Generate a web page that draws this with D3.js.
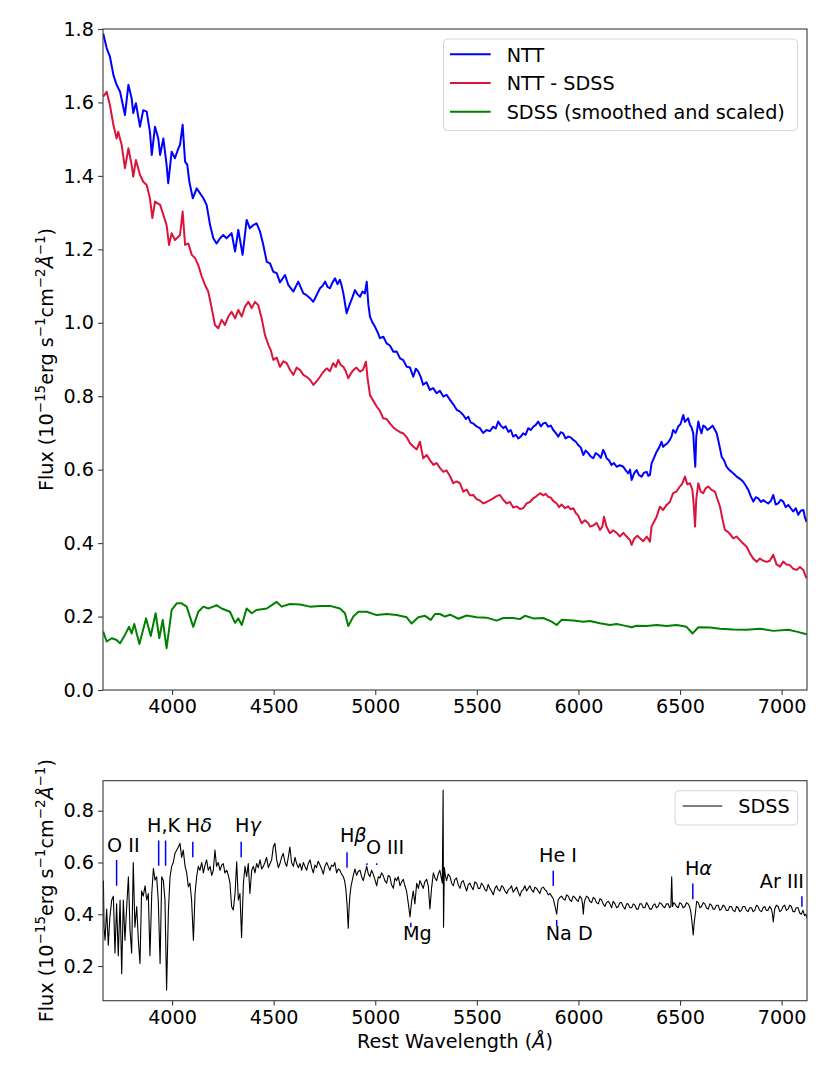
<!DOCTYPE html>
<html><head><meta charset="utf-8">
<script src="https://cdn.jsdelivr.net/npm/d3@7"></script>
<style>
body{margin:0;background:#fff}
text{font-family:"DejaVu Sans",sans-serif;fill:#000}
</style>
</head><body>
<svg id="c" width="830" height="1080"></svg>
<script>
// ---------------- DATA ----------------
const xTicks = [4000,4500,5000,5500,6000,6500,7000];
const topYTicks = [0.0,0.2,0.4,0.6,0.8,1.0,1.2,1.4,1.6,1.8];
const botYTicks = [0.2,0.4,0.6,0.8];
const seriesNames = ["NTT","NTT - SDSS","SDSS (smoothed and scaled)"];
const bottomName = "SDSS";

// NTT spectrum [wavelength, flux]
const ntt = [[3661,1.788],[3678,1.748],[3694,1.725],[3711,1.675],[3727,1.648],[3744,1.629],[3768,1.566],[3785,1.648],[3801,1.611],[3809,1.571],[3822,1.598],[3842,1.534],[3858,1.579],[3875,1.575],[3891,1.520],[3900,1.457],[3916,1.534],[3932,1.502],[3941,1.457],[3957,1.502],[3973,1.430],[3981,1.380],[3998,1.466],[4014,1.448],[4031,1.475],[4039,1.484],[4052,1.539],[4064,1.439],[4075,1.430],[4085,1.384],[4102,1.339],[4121,1.366],[4137,1.353],[4154,1.339],[4170,1.321],[4187,1.266],[4203,1.230],[4219,1.216],[4236,1.230],[4252,1.239],[4268,1.230],[4293,1.244],[4310,1.194],[4326,1.253],[4347,1.185],[4367,1.280],[4383,1.257],[4400,1.266],[4416,1.271],[4433,1.248],[4449,1.212],[4466,1.166],[4482,1.162],[4498,1.139],[4515,1.135],[4531,1.110],[4556,1.130],[4572,1.103],[4597,1.085],[4621,1.112],[4646,1.080],[4662,1.075],[4679,1.067],[4695,1.057],[4711,1.075],[4728,1.094],[4740,1.100],[4753,1.112],[4765,1.098],[4777,1.094],[4790,1.110],[4802,1.121],[4814,1.105],[4826,1.117],[4835,1.100],[4843,1.080],[4859,1.026],[4876,1.053],[4888,1.070],[4900,1.089],[4912,1.078],[4925,1.071],[4937,1.085],[4949,1.080],[4958,1.112],[4966,1.050],[4974,1.017],[4987,1.000],[4999,0.989],[5011,0.975],[5023,0.958],[5040,0.962],[5056,0.944],[5072,0.938],[5089,0.921],[5105,0.922],[5122,0.903],[5138,0.898],[5155,0.880],[5171,0.878],[5187,0.853],[5200,0.875],[5212,0.867],[5224,0.852],[5236,0.831],[5252,0.838],[5269,0.817],[5285,0.822],[5302,0.808],[5318,0.815],[5335,0.799],[5351,0.804],[5368,0.790],[5384,0.778],[5401,0.763],[5417,0.758],[5433,0.749],[5446,0.738],[5458,0.744],[5470,0.728],[5482,0.726],[5498,0.718],[5515,0.713],[5531,0.700],[5548,0.708],[5564,0.705],[5581,0.717],[5593,0.712],[5605,0.731],[5618,0.720],[5630,0.713],[5642,0.718],[5655,0.703],[5667,0.708],[5679,0.690],[5692,0.695],[5704,0.685],[5716,0.690],[5728,0.699],[5740,0.695],[5753,0.713],[5765,0.708],[5778,0.717],[5790,0.722],[5802,0.731],[5815,0.718],[5827,0.726],[5839,0.728],[5851,0.717],[5864,0.720],[5876,0.708],[5888,0.700],[5901,0.690],[5913,0.702],[5925,0.699],[5937,0.685],[5950,0.690],[5962,0.688],[5975,0.681],[5987,0.676],[5999,0.667],[6012,0.660],[6024,0.640],[6036,0.652],[6048,0.645],[6060,0.636],[6073,0.631],[6085,0.645],[6098,0.640],[6110,0.632],[6122,0.654],[6130,0.645],[6139,0.631],[6151,0.625],[6163,0.613],[6175,0.618],[6188,0.608],[6204,0.612],[6221,0.608],[6233,0.598],[6245,0.590],[6254,0.600],[6262,0.572],[6274,0.590],[6286,0.599],[6298,0.585],[6311,0.581],[6323,0.592],[6336,0.594],[6344,0.583],[6352,0.586],[6360,0.617],[6372,0.632],[6385,0.649],[6397,0.660],[6409,0.676],[6417,0.662],[6426,0.667],[6438,0.672],[6450,0.681],[6458,0.690],[6466,0.708],[6478,0.700],[6491,0.717],[6503,0.725],[6516,0.749],[6524,0.730],[6532,0.735],[6540,0.740],[6549,0.722],[6557,0.715],[6565,0.699],[6570,0.650],[6575,0.608],[6580,0.690],[6590,0.731],[6598,0.712],[6606,0.699],[6614,0.720],[6623,0.717],[6635,0.708],[6647,0.713],[6660,0.720],[6672,0.708],[6680,0.700],[6688,0.681],[6696,0.660],[6705,0.635],[6717,0.625],[6729,0.608],[6741,0.600],[6754,0.594],[6766,0.588],[6779,0.581],[6795,0.575],[6811,0.567],[6824,0.556],[6836,0.545],[6848,0.528],[6861,0.513],[6873,0.525],[6885,0.522],[6898,0.512],[6910,0.517],[6922,0.512],[6934,0.508],[6947,0.515],[6959,0.531],[6971,0.505],[6983,0.508],[6996,0.518],[7008,0.513],[7020,0.498],[7033,0.504],[7045,0.495],[7057,0.486],[7070,0.495],[7082,0.477],[7094,0.488],[7107,0.490],[7115,0.470],[7123,0.458]];

// NTT - SDSS [wavelength, flux]
const nttMinusSdss = [[3661,1.616],[3678,1.629],[3694,1.593],[3711,1.539],[3727,1.502],[3735,1.520],[3752,1.484],[3768,1.421],[3785,1.475],[3801,1.430],[3809,1.398],[3822,1.443],[3842,1.403],[3858,1.384],[3875,1.375],[3891,1.339],[3903,1.285],[3916,1.330],[3941,1.321],[3957,1.294],[3973,1.266],[3985,1.212],[3998,1.244],[4014,1.225],[4039,1.239],[4052,1.303],[4064,1.212],[4080,1.216],[4097,1.185],[4113,1.176],[4129,1.157],[4146,1.126],[4162,1.103],[4178,1.085],[4195,1.040],[4211,0.994],[4227,0.985],[4244,1.008],[4260,0.994],[4277,1.017],[4293,1.030],[4310,1.012],[4326,1.035],[4343,1.017],[4359,1.044],[4375,1.057],[4392,1.040],[4408,1.057],[4424,1.048],[4441,1.012],[4457,0.967],[4474,0.940],[4486,0.925],[4498,0.899],[4515,0.905],[4531,0.880],[4548,0.895],[4564,0.890],[4580,0.872],[4597,0.858],[4613,0.878],[4630,0.871],[4646,0.858],[4662,0.853],[4679,0.845],[4695,0.831],[4711,0.840],[4728,0.853],[4744,0.866],[4761,0.876],[4777,0.868],[4793,0.890],[4806,0.880],[4818,0.899],[4830,0.885],[4843,0.880],[4855,0.868],[4867,0.849],[4880,0.862],[4892,0.871],[4908,0.878],[4925,0.867],[4940,0.872],[4954,0.894],[4962,0.850],[4974,0.803],[4990,0.788],[5007,0.772],[5023,0.760],[5039,0.740],[5056,0.738],[5072,0.726],[5089,0.715],[5105,0.708],[5122,0.702],[5138,0.699],[5155,0.688],[5171,0.672],[5187,0.663],[5204,0.655],[5220,0.676],[5236,0.631],[5253,0.640],[5269,0.626],[5286,0.613],[5302,0.618],[5318,0.605],[5335,0.594],[5351,0.598],[5368,0.582],[5384,0.563],[5400,0.568],[5417,0.563],[5433,0.540],[5450,0.546],[5466,0.530],[5482,0.531],[5499,0.520],[5515,0.516],[5532,0.508],[5548,0.512],[5565,0.517],[5581,0.522],[5597,0.528],[5614,0.531],[5630,0.518],[5647,0.508],[5663,0.512],[5679,0.497],[5696,0.500],[5712,0.493],[5728,0.495],[5745,0.508],[5761,0.512],[5778,0.522],[5794,0.528],[5811,0.536],[5827,0.530],[5839,0.534],[5851,0.526],[5864,0.524],[5876,0.515],[5893,0.508],[5905,0.498],[5917,0.505],[5934,0.495],[5950,0.500],[5962,0.492],[5975,0.495],[5987,0.482],[5999,0.475],[6016,0.454],[6032,0.462],[6048,0.455],[6057,0.445],[6073,0.448],[6090,0.455],[6106,0.436],[6118,0.445],[6126,0.472],[6138,0.445],[6155,0.427],[6171,0.435],[6188,0.428],[6204,0.418],[6221,0.428],[6237,0.418],[6254,0.408],[6262,0.395],[6274,0.412],[6290,0.420],[6303,0.413],[6319,0.405],[6336,0.418],[6352,0.404],[6360,0.445],[6372,0.458],[6385,0.472],[6401,0.499],[6417,0.490],[6434,0.504],[6450,0.512],[6466,0.536],[6482,0.540],[6499,0.554],[6511,0.562],[6524,0.581],[6536,0.560],[6549,0.563],[6561,0.545],[6568,0.500],[6574,0.445],[6580,0.520],[6590,0.563],[6602,0.540],[6614,0.536],[6627,0.550],[6639,0.554],[6655,0.545],[6672,0.540],[6684,0.520],[6697,0.499],[6709,0.465],[6721,0.436],[6737,0.430],[6750,0.422],[6762,0.413],[6778,0.418],[6795,0.408],[6811,0.399],[6828,0.390],[6844,0.372],[6860,0.358],[6877,0.349],[6893,0.358],[6910,0.352],[6926,0.349],[6942,0.352],[6959,0.368],[6975,0.342],[6992,0.336],[7008,0.350],[7024,0.342],[7041,0.340],[7057,0.330],[7074,0.327],[7090,0.335],[7107,0.327],[7115,0.315],[7123,0.304]];

// SDSS smoothed and scaled [wavelength, flux]
const sdssSmooth = [[3661,0.159],[3678,0.132],[3703,0.141],[3727,0.136],[3744,0.127],[3768,0.150],[3788,0.172],[3801,0.154],[3814,0.180],[3839,0.125],[3872,0.195],[3895,0.147],[3919,0.209],[3937,0.141],[3954,0.191],[3973,0.114],[3998,0.218],[4023,0.236],[4047,0.236],[4072,0.227],[4104,0.172],[4129,0.213],[4154,0.227],[4178,0.222],[4203,0.227],[4219,0.231],[4244,0.222],[4285,0.213],[4310,0.183],[4326,0.195],[4343,0.177],[4367,0.222],[4392,0.209],[4416,0.218],[4466,0.222],[4515,0.240],[4539,0.227],[4580,0.234],[4630,0.233],[4679,0.227],[4728,0.229],[4777,0.229],[4826,0.222],[4851,0.209],[4867,0.174],[4892,0.200],[4917,0.213],[4958,0.213],[5007,0.204],[5056,0.207],[5105,0.204],[5155,0.198],[5179,0.181],[5212,0.198],[5245,0.202],[5273,0.191],[5294,0.207],[5318,0.207],[5343,0.200],[5368,0.205],[5409,0.194],[5450,0.203],[5499,0.198],[5548,0.197],[5597,0.189],[5630,0.196],[5679,0.196],[5712,0.193],[5737,0.202],[5778,0.195],[5827,0.196],[5868,0.186],[5893,0.177],[5917,0.191],[5975,0.189],[6024,0.186],[6057,0.188],[6106,0.182],[6155,0.177],[6188,0.180],[6221,0.176],[6262,0.171],[6286,0.175],[6336,0.174],[6385,0.177],[6434,0.174],[6483,0.177],[6532,0.172],[6562,0.154],[6590,0.171],[6647,0.170],[6697,0.167],[6762,0.165],[6828,0.164],[6893,0.167],[6959,0.161],[7033,0.164],[7074,0.159],[7123,0.152]];

// SDSS spectrum [wavelength, flux]
const sdss = [[3662,0.53],[3665,0.35],[3670,0.30],[3678,0.42],[3686,0.28],[3694,0.39],[3703,0.455],[3711,0.47],[3719,0.25],[3727,0.44],[3735,0.24],[3744,0.455],[3752,0.17],[3760,0.455],[3768,0.30],[3776,0.42],[3785,0.545],[3793,0.34],[3801,0.25],[3809,0.60],[3817,0.35],[3826,0.43],[3834,0.30],[3842,0.21],[3850,0.49],[3858,0.47],[3867,0.51],[3875,0.455],[3883,0.48],[3891,0.24],[3900,0.48],[3908,0.577],[3916,0.532],[3924,0.545],[3932,0.455],[3941,0.21],[3949,0.545],[3957,0.53],[3965,0.455],[3973,0.107],[3982,0.416],[3990,0.545],[3998,0.585],[4006,0.60],[4014,0.635],[4023,0.648],[4031,0.66],[4039,0.674],[4047,0.62],[4055,0.648],[4064,0.585],[4072,0.56],[4080,0.506],[4088,0.52],[4096,0.455],[4105,0.30],[4113,0.48],[4121,0.545],[4129,0.585],[4137,0.57],[4146,0.60],[4154,0.56],[4162,0.59],[4170,0.61],[4178,0.57],[4187,0.585],[4195,0.55],[4203,0.57],[4211,0.648],[4219,0.585],[4227,0.60],[4236,0.57],[4244,0.59],[4252,0.596],[4260,0.56],[4269,0.57],[4277,0.55],[4285,0.52],[4293,0.43],[4301,0.416],[4310,0.48],[4318,0.603],[4326,0.455],[4334,0.48],[4342,0.31],[4351,0.52],[4359,0.585],[4367,0.545],[4375,0.596],[4383,0.48],[4392,0.57],[4400,0.585],[4408,0.56],[4416,0.596],[4424,0.58],[4433,0.61],[4441,0.575],[4449,0.585],[4457,0.60],[4465,0.62],[4474,0.58],[4482,0.596],[4490,0.61],[4498,0.66],[4506,0.674],[4515,0.61],[4523,0.58],[4531,0.596],[4539,0.62],[4547,0.635],[4556,0.60],[4564,0.585],[4572,0.62],[4580,0.66],[4588,0.60],[4597,0.585],[4605,0.62],[4613,0.596],[4621,0.58],[4630,0.596],[4638,0.57],[4646,0.60],[4654,0.585],[4662,0.57],[4670,0.595],[4679,0.61],[4687,0.58],[4695,0.56],[4703,0.59],[4711,0.58],[4719,0.605],[4728,0.59],[4736,0.575],[4744,0.555],[4752,0.585],[4761,0.60],[4769,0.585],[4777,0.57],[4785,0.59],[4793,0.585],[4801,0.60],[4810,0.56],[4818,0.575],[4826,0.57],[4834,0.555],[4843,0.545],[4849,0.53],[4855,0.50],[4861,0.44],[4867,0.346],[4871,0.42],[4875,0.47],[4880,0.505],[4884,0.52],[4892,0.55],[4900,0.575],[4908,0.55],[4916,0.565],[4925,0.57],[4933,0.545],[4941,0.53],[4950,0.56],[4958,0.585],[4966,0.555],[4974,0.545],[4982,0.57],[4990,0.555],[4998,0.535],[5007,0.51],[5015,0.545],[5023,0.54],[5031,0.56],[5039,0.55],[5047,0.53],[5056,0.52],[5064,0.55],[5072,0.545],[5080,0.515],[5089,0.50],[5097,0.54],[5105,0.53],[5113,0.545],[5122,0.51],[5130,0.525],[5138,0.535],[5146,0.51],[5154,0.49],[5163,0.44],[5171,0.39],[5179,0.45],[5187,0.49],[5195,0.44],[5204,0.52],[5212,0.50],[5220,0.53],[5228,0.515],[5236,0.50],[5244,0.525],[5253,0.535],[5261,0.51],[5269,0.42],[5277,0.50],[5286,0.56],[5294,0.54],[5302,0.53],[5310,0.555],[5318,0.57],[5324,0.545],[5330,0.52],[5334,0.88],[5336,0.35],[5340,0.58],[5345,0.55],[5351,0.53],[5359,0.555],[5368,0.545],[5376,0.52],[5384,0.51],[5392,0.535],[5400,0.54],[5408,0.515],[5417,0.50],[5425,0.525],[5433,0.53],[5441,0.51],[5450,0.49],[5458,0.515],[5466,0.52],[5474,0.505],[5482,0.495],[5490,0.525],[5499,0.52],[5507,0.50],[5515,0.50],[5523,0.52],[5532,0.51],[5540,0.495],[5548,0.49],[5556,0.515],[5564,0.50],[5572,0.49],[5581,0.475],[5589,0.50],[5597,0.51],[5605,0.495],[5614,0.49],[5622,0.51],[5630,0.505],[5638,0.49],[5647,0.48],[5655,0.495],[5663,0.50],[5671,0.51],[5679,0.485],[5687,0.495],[5696,0.505],[5704,0.485],[5712,0.47],[5720,0.49],[5728,0.495],[5736,0.51],[5745,0.49],[5753,0.50],[5761,0.51],[5769,0.495],[5778,0.485],[5786,0.505],[5794,0.50],[5802,0.49],[5810,0.48],[5818,0.50],[5827,0.505],[5835,0.495],[5843,0.49],[5851,0.475],[5860,0.48],[5868,0.47],[5876,0.46],[5885,0.43],[5893,0.40],[5900,0.455],[5908,0.465],[5917,0.47],[5925,0.46],[5934,0.455],[5942,0.475],[5950,0.47],[5958,0.455],[5966,0.45],[5974,0.47],[5983,0.465],[5991,0.455],[5999,0.45],[6007,0.47],[6016,0.46],[6020,0.44],[6024,0.40],[6028,0.44],[6032,0.455],[6040,0.47],[6048,0.465],[6056,0.45],[6065,0.445],[6073,0.465],[6081,0.46],[6089,0.445],[6098,0.44],[6106,0.46],[6114,0.455],[6122,0.44],[6130,0.43],[6138,0.445],[6147,0.45],[6155,0.44],[6163,0.425],[6171,0.45],[6180,0.44],[6188,0.425],[6196,0.43],[6204,0.445],[6212,0.445],[6220,0.43],[6229,0.42],[6237,0.44],[6245,0.44],[6253,0.425],[6262,0.425],[6270,0.44],[6278,0.435],[6286,0.42],[6294,0.42],[6302,0.44],[6311,0.44],[6319,0.425],[6327,0.425],[6335,0.445],[6343,0.435],[6351,0.42],[6360,0.42],[6368,0.435],[6376,0.44],[6384,0.425],[6392,0.43],[6400,0.445],[6409,0.44],[6417,0.43],[6425,0.425],[6433,0.44],[6442,0.44],[6449,0.425],[6455,0.43],[6459,0.545],[6463,0.43],[6469,0.445],[6475,0.44],[6483,0.43],[6491,0.425],[6499,0.445],[6507,0.44],[6515,0.425],[6524,0.43],[6532,0.445],[6540,0.44],[6547,0.43],[6553,0.41],[6559,0.37],[6565,0.32],[6570,0.37],[6575,0.40],[6582,0.45],[6590,0.445],[6598,0.425],[6606,0.43],[6614,0.445],[6622,0.44],[6630,0.425],[6639,0.42],[6647,0.44],[6655,0.435],[6663,0.42],[6671,0.42],[6679,0.435],[6688,0.435],[6696,0.415],[6704,0.42],[6712,0.435],[6720,0.43],[6728,0.415],[6737,0.415],[6745,0.43],[6753,0.43],[6761,0.415],[6770,0.41],[6778,0.43],[6786,0.425],[6794,0.41],[6802,0.415],[6810,0.43],[6819,0.43],[6827,0.415],[6835,0.41],[6843,0.425],[6852,0.425],[6860,0.41],[6868,0.415],[6876,0.435],[6884,0.43],[6892,0.415],[6901,0.41],[6909,0.425],[6917,0.43],[6925,0.415],[6933,0.415],[6941,0.43],[6950,0.42],[6955,0.40],[6959,0.37],[6963,0.40],[6966,0.42],[6974,0.435],[6983,0.43],[6991,0.41],[6999,0.415],[7007,0.43],[7015,0.435],[7023,0.415],[7032,0.42],[7040,0.435],[7048,0.43],[7056,0.41],[7064,0.41],[7072,0.425],[7081,0.425],[7089,0.405],[7097,0.40],[7105,0.415],[7113,0.395],[7119,0.40],[7125,0.385]];

// Line identifications: marker wavelength(s), marker flux range, label anchor (wavelength, flux)
const lineNames  = ["O II","H,K","H|δ","H|γ","H|β","O III","Mg","He I","Na D","H|α","Ar III"];
const lineWaves  = [[3727],[3934,3968],[4102],[4340],[4861],[4959,5007],[5175],[5876],[5893],[6563],[7100]];
const lineMarkLo = [0.51,0.587,0.62,0.62,0.58,0.590,0.350,0.509,0.355,0.458,0.429];
const lineMarkHi = [0.61,0.685,0.68,0.68,0.64,0.597,0.367,0.568,0.378,0.519,0.470];
const labelWave  = [3680,3877,4067,4310,4826,4954,5136,5806,5839,6524,6893];
const labelFlux  = [0.641,0.717,0.717,0.717,0.680,0.633,0.301,0.602,0.301,0.552,0.502];

// ---------------- DRAW ----------------
const FS = 19.2;
const svg = d3.select("#c");
const L = 103, R = 807;
const T1 = 29, B1 = 690;
const T2 = 780.7, B2 = 1000.7;
const axisCol = "#3a3a3a";

const x = d3.scaleLinear().domain([3660,7125]).range([L,R]);
const y1 = d3.scaleLinear().domain([0,1.8]).range([B1,T1]);
const y2 = d3.scaleLinear().domain([0.066,0.916]).range([B2,T2]);

const defs = svg.append("defs");
defs.append("clipPath").attr("id","clip1").append("rect").attr("x",L).attr("y",T1).attr("width",R-L).attr("height",B1-T1);
defs.append("clipPath").attr("id","clip2").append("rect").attr("x",L).attr("y",T2).attr("width",R-L).attr("height",B2-T2);

function styleAxis(g){
  g.select(".domain").remove();
  g.selectAll(".tick line").attr("stroke",axisCol).attr("stroke-width",1.1);
  g.selectAll(".tick text").attr("font-size",FS).attr("fill","#000").attr("font-family","DejaVu Sans");
}
function axes(y, yTicks, top, bottom){
  svg.append("g").attr("transform",`translate(0,${bottom})`)
    .call(d3.axisBottom(x).tickValues(xTicks).tickFormat(d3.format("d")).tickSize(4.9).tickPadding(4.8))
    .call(styleAxis);
  svg.append("g").attr("transform",`translate(${L},0)`)
    .call(d3.axisLeft(y).tickValues(yTicks).tickFormat(d3.format(".1f")).tickSize(4.9).tickPadding(4.2))
    .call(styleAxis);
  svg.append("rect").attr("x",L).attr("y",top).attr("width",R-L).attr("height",bottom-top)
    .attr("fill","none").attr("stroke",axisCol).attr("stroke-width",1.1);
}

function ylabel(cx, cy){
  const t = svg.append("text").attr("transform",`translate(${cx},${cy}) rotate(-90)`)
    .attr("text-anchor","middle").attr("font-size",FS);
  const parts = [["Flux (10",0],["\u221215",1],["erg s",0],["\u22121",1],["cm",0],["\u22122",1],["\u00C5",2],["\u22121",1],[")",0]];
  let prev = 0;
  parts.forEach(([s,sup])=>{
    const ts = t.append("tspan").text(s);
    if(sup===1){ ts.attr("font-size",FS*0.7); if(prev!==1) ts.attr("dy",-FS*0.42); }
    else { if(prev===1) ts.attr("dy",FS*0.42); if(sup===2) ts.attr("font-style","italic"); }
    prev = sup;
  });
}

const line = (yS) => d3.line().x(d=>x(d[0])).y(d=>yS(d[1]));

// ---- top panel ----
const g1 = svg.append("g").attr("clip-path","url(#clip1)");
const topSeries = [ntt, nttMinusSdss, sdssSmooth];
const topColors = ["#0000ff","#dc143c","#008000"];
topSeries.forEach((s,i)=>{
  g1.append("path").datum(s).attr("d",line(y1)).attr("fill","none")
    .attr("stroke",topColors[i]).attr("stroke-width",2).attr("stroke-linejoin","round");
});
axes(y1, topYTicks, T1, B1);
ylabel(53, (T1+B1)/2);

// legend top
const lg = svg.append("g");
lg.append("rect").attr("x",443.5).attr("y",39).attr("width",354).attr("height",91.5).attr("rx",4)
  .attr("fill","#fff").attr("fill-opacity",0.8).attr("stroke","#d6d6d6").attr("stroke-width",1);
seriesNames.forEach((n,i)=>{
  const yy = 54.3 + i*28.7;
  lg.append("line").attr("x1",450).attr("x2",490.7).attr("y1",yy).attr("y2",yy)
    .attr("stroke",topColors[i]).attr("stroke-width",2);
  lg.append("text").attr("x",506.7).attr("y",yy+7.3).attr("font-size",FS).text(n);
});

// ---- bottom panel ----
const g2 = svg.append("g").attr("clip-path","url(#clip2)");
lineNames.forEach((n,i)=>{
  lineWaves[i].forEach(w=>{
    g2.append("line").attr("x1",x(w)).attr("x2",x(w)).attr("y1",y2(lineMarkLo[i])).attr("y2",y2(lineMarkHi[i]))
      .attr("stroke","#0000ff").attr("stroke-width",1.5);
  });
});
g2.append("path").datum(sdss).attr("d",line(y2)).attr("fill","none")
  .attr("stroke","#000").attr("stroke-width",1.1).attr("stroke-linejoin","round");

lineNames.forEach((n,i)=>{
  const t = svg.append("text").attr("x",x(labelWave[i])).attr("y",y2(labelFlux[i])).attr("font-size",FS);
  const p = n.split("|");
  t.append("tspan").text(p[0]);
  if(p[1]) t.append("tspan").attr("font-style","italic").text(p[1]);
});

axes(y2, botYTicks, T2, B2);
ylabel(53, (T2+B2)/2);
svg.append("text").attr("x",(L+R)/2).attr("y",1048).attr("text-anchor","middle").attr("font-size",FS)
  .call(t=>{ t.append("tspan").text("Rest Wavelength ("); t.append("tspan").attr("font-style","italic").text("\u00C5"); t.append("tspan").text(")"); });

// legend bottom
const lb = svg.append("g");
lb.append("rect").attr("x",675).attr("y",790.7).attr("width",122.7).attr("height",34.3).attr("rx",4)
  .attr("fill","#fff").attr("fill-opacity",0.8).attr("stroke","#d6d6d6").attr("stroke-width",1);
lb.append("line").attr("x1",682.7).attr("x2",722.3).attr("y1",806).attr("y2",806).attr("stroke","#000").attr("stroke-width",1.1);
lb.append("text").attr("x",738.3).attr("y",813.3).attr("font-size",FS).text(bottomName);
</script>
</body></html>
